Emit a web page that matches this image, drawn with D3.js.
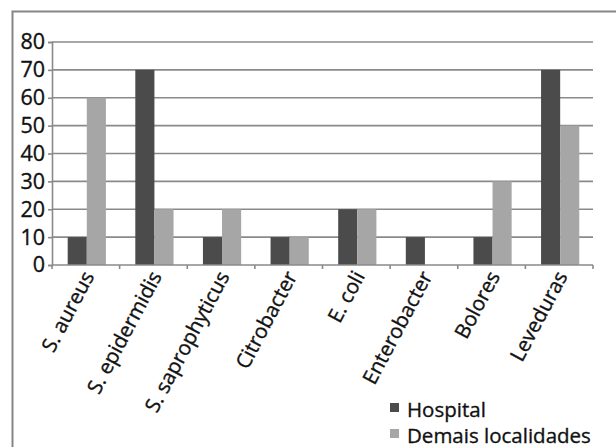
<!DOCTYPE html>
<html>
<head>
<meta charset="utf-8">
<script src="https://cdn.jsdelivr.net/npm/d3@7"></script>
<style>
  html, body { margin: 0; padding: 0; background: #fff; }
  svg { display: block; font-family: "Open Sans", "DejaVu Sans", sans-serif; }
  svg text { fill: #111; stroke: #111; stroke-width: 0.35px; }
</style>
</head>
<body>
<svg id="chart" width="616" height="447"></svg>
<script>
// Microorganism categories and counts per origin
const categories = ["S. aureus", "S. epidermidis", "S. saprophyticus", "Citrobacter",
                    "E. coli", "Enterobacter", "Bolores", "Leveduras"];
const seriesNames = ["Hospital", "Demais localidades"];
const hospital = [10, 70, 10, 10, 20, 10, 10, 70];
const demais   = [60, 20, 20, 10, 20, 0, 30, 50];
const yTicks = [0, 10, 20, 30, 40, 50, 60, 70, 80];
const colors = ["#4b4b4b", "#a6a6a6"];

const values = [hospital, demais];
const svg = d3.select("#chart");

// outer frame (runs off the right and bottom edges)
svg.append("path")
  .attr("d", "M12.5,447 L12.5,11.5 L620,11.5")
  .attr("fill", "none").attr("stroke", "#858585").attr("stroke-width", 2);

const plotLeft = 52, plotRight = 593, plotTop = 42, plotBottom = 265;

const x0 = d3.scaleBand().domain(categories).range([plotLeft, plotRight]).padding(0);
const bw = x0.bandwidth();
const x1 = d3.scaleBand().domain(seriesNames).range([bw * 0.232, bw * 0.797]);
const y = d3.scaleLinear().domain([0, 80]).range([plotBottom, plotTop]);

// horizontal gridlines
svg.append("g").selectAll("line").data(yTicks.filter(d => d > 0)).join("line")
  .attr("x1", plotLeft).attr("x2", plotRight)
  .attr("y1", d => y(d)).attr("y2", d => y(d))
  .attr("stroke", "#8a8a8a").attr("stroke-width", 1.6);

// bars
const groups = svg.append("g").selectAll("g").data(categories).join("g")
  .attr("transform", d => `translate(${x0(d)},0)`);
groups.selectAll("rect")
  .data((c, i) => seriesNames.map((s, k) => ({ s, k, v: values[k][i] })))
  .join("rect")
  .attr("x", d => x1(d.s))
  .attr("width", x1.bandwidth())
  .attr("y", d => y(d.v))
  .attr("height", d => plotBottom - y(d.v))
  .attr("fill", d => colors[d.k]);

// y axis
const yAxis = svg.append("g").attr("transform", `translate(${plotLeft},0)`)
  .call(d3.axisLeft(y).tickValues(yTicks).tickSize(4).tickPadding(3));
yAxis.select(".domain").attr("stroke", "#8a8a8a").attr("stroke-width", 1.6);
yAxis.selectAll(".tick line").attr("stroke", "#8a8a8a").attr("stroke-width", 1.6);
yAxis.selectAll("text").attr("font-size", 21.5)
  .attr("font-family", "'Open Sans', sans-serif");

// x axis: boundary ticks between categories
const boundaries = d3.range(categories.length + 1).map(i => plotLeft + i * bw);
svg.append("line").attr("x1", plotLeft).attr("x2", plotRight)
  .attr("y1", plotBottom).attr("y2", plotBottom)
  .attr("stroke", "#8a8a8a").attr("stroke-width", 1.6);
svg.append("g").selectAll("line").data(boundaries).join("line")
  .attr("x1", d => d).attr("x2", d => d)
  .attr("y1", plotBottom).attr("y2", plotBottom + 4)
  .attr("stroke", "#8a8a8a").attr("stroke-width", 1.6);

// rotated category labels
svg.append("g").selectAll("text").data(categories).join("text")
  .attr("transform", d => `translate(${x0(d) + bw / 2 + 9},${plotBottom + 11}) rotate(-62)`)
  .attr("text-anchor", "end")
  .attr("font-size", 20.5)
  .text(d => d);

// legend
const legend = svg.append("g").selectAll("g").data(seriesNames).join("g")
  .attr("transform", (d, i) => `translate(390,${403 + i * 26})`);
legend.append("rect").attr("width", 9).attr("height", 9)
  .attr("fill", (d, i) => colors[i]);
legend.append("text").attr("x", 17).attr("y", 13.5)
  .attr("font-size", 20.5)
  .text(d => d);
</script>
</body>
</html>
